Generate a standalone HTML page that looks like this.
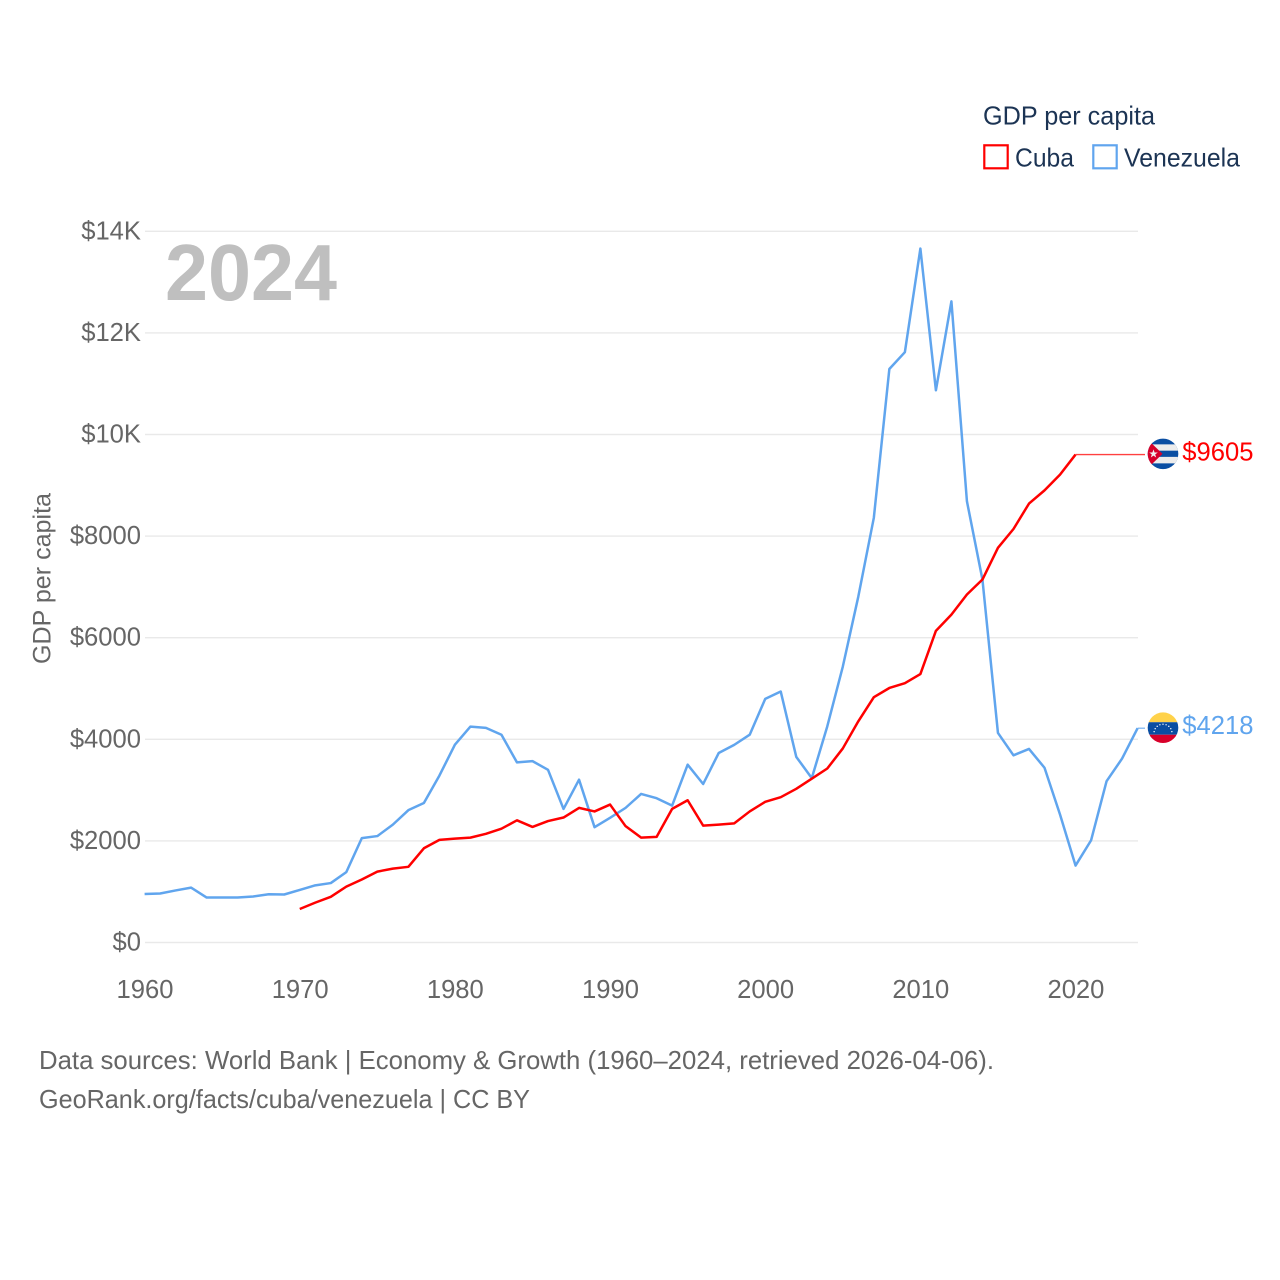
<!DOCTYPE html>
<html lang="en">
<head>
<meta charset="utf-8">
<title>GDP per capita: Cuba and Venezuela</title>
<style>
  html, body { margin: 0; padding: 0; background: #fff; }
  #chart { display: block; width: 1280px; height: 1280px; font-family: "Liberation Sans", sans-serif; }
  text { font-family: "Liberation Sans", sans-serif; }
</style>
</head>
<body>
<svg id="chart" xmlns="http://www.w3.org/2000/svg" width="1280" height="1280" viewBox="0 0 1280 1280">
  <defs>
    <clipPath id="cuba-clip"><circle cx="0" cy="0" r="15.3"/></clipPath>
    <clipPath id="venezuela-clip"><circle cx="0" cy="0" r="15.3"/></clipPath>
  </defs>
  <rect x="0" y="0" width="1280" height="1280" fill="#ffffff"/>
  <g id="grid"></g>
  <g id="y-ticks"></g>
  <g id="x-ticks"></g>
  <text id="year-label" x="165" y="300" font-size="80" font-weight="700" fill="#bfbfbf" textLength="172" lengthAdjust="spacingAndGlyphs"></text>
  <text transform="translate(50.5,664) rotate(-90)" font-size="25" fill="#666666" textLength="171" lengthAdjust="spacingAndGlyphs">GDP per capita</text>
  <g id="series"></g>
  <g id="end-markers"></g>

  <g>
    <text x="983" y="124.5" font-size="25.6" fill="#1c3454" textLength="172" lengthAdjust="spacingAndGlyphs">GDP per capita</text>
    <rect x="984.3" y="145.3" width="23.4" height="23" fill="none" stroke="#ff0000" stroke-width="2.2"/>
    <text x="1015" y="166.5" font-size="25.6" fill="#1c3454" textLength="59" lengthAdjust="spacingAndGlyphs">Cuba</text>
    <rect x="1093.3" y="145.3" width="23.4" height="23" fill="none" stroke="#60a5ee" stroke-width="2.2"/>
    <text x="1124" y="166.5" font-size="25.6" fill="#1c3454" textLength="116" lengthAdjust="spacingAndGlyphs">Venezuela</text>
  </g>

  <g>
    <text x="39" y="1069" font-size="25.6" fill="#666666" textLength="955" lengthAdjust="spacingAndGlyphs">Data sources: World Bank | Economy &amp; Growth (1960–2024, retrieved 2026-04-06).</text>
    <text x="39" y="1108" font-size="25.6" fill="#666666" textLength="491" lengthAdjust="spacingAndGlyphs">GeoRank.org/facts/cuba/venezuela | CC BY</text>
  </g>
</svg>
<script>
const venezuelaStartYear = 1960;
const cubaStartYear = 1970;
const venezuelaValues = [955, 965, 1025, 1080, 885, 885, 885, 905, 950, 945,
  1035, 1125, 1170, 1385, 2055, 2095, 2320, 2605, 2745, 3285,
  3895, 4250, 4225, 4090, 3545, 3570, 3400, 2630, 3205, 2270,
  2455, 2650, 2925, 2840, 2695, 3500, 3120, 3730, 3890, 4090,
  4795, 4940, 3655, 3235, 4255, 5430, 6810, 8360, 11290, 11620,
  13660, 10870, 12620, 8685, 7145, 4125, 3685, 3810, 3440, 2520,
  1515, 2010, 3175, 3620, 4218];
const cubaValues = [660, 785, 900, 1100, 1240, 1395, 1455, 1490, 1855, 2020,
  2045, 2065, 2140, 2240, 2405, 2275, 2390, 2460, 2650, 2580,
  2715, 2290, 2065, 2080, 2630, 2800, 2300, 2320, 2345, 2580,
  2770, 2860, 3025, 3225, 3425, 3820, 4355, 4830, 5010, 5105,
  5285, 6135, 6455, 6850, 7145, 7770, 8140, 8640, 8900, 9210,
  9605];
const yTickValues = [0, 2000, 4000, 6000, 8000, 10000, 12000, 14000];
const yTickLabels = ["$0", "$2000", "$4000", "$6000", "$8000", "$10K", "$12K", "$14K"];
const xTickValues = [1960, 1970, 1980, 1990, 2000, 2010, 2020];
const currentYear = 2024;

const SVG_NS = "http://www.w3.org/2000/svg";
function xScale(year) { return 144.6 + (year - 1960) * (1137.6 - 144.6) / 64; }
function yScale(value) { return 942.5 - value * (942.5 - 231.3) / 14000; }
function make(tag, parent) {
  const el = document.createElementNS(SVG_NS, tag);
  parent.appendChild(el);
  return el;
}
function linePoints(values, startYear) {
  return values.map(function (v, i) {
    return xScale(startYear + i).toFixed(2) + "," + yScale(v).toFixed(2);
  }).join(" ");
}

document.getElementById("year-label").textContent = String(currentYear);

const gridGroup = document.getElementById("grid");
const yTickGroup = document.getElementById("y-ticks");
const xTickGroup = document.getElementById("x-ticks");
const seriesGroup = document.getElementById("series");
const markerGroup = document.getElementById("end-markers");

yTickValues.forEach(function (v, i) {
  const gridLine = make("line", gridGroup);
  
  
  gridLine.setAttribute("x1", 145);
  gridLine.setAttribute("x2", 1138);
  gridLine.setAttribute("y1", yScale(v));
  gridLine.setAttribute("y2", yScale(v));
  gridLine.setAttribute("stroke", "#e9e9e9");
  gridLine.setAttribute("stroke-width", "1.4");

  const label = make("text", yTickGroup);
  
  
  label.setAttribute("x", 141);
  label.setAttribute("y", yScale(v) + 8);
  label.setAttribute("text-anchor", "end");
  label.setAttribute("font-size", "25.6");
  label.setAttribute("fill", "#666666");
  label.textContent = yTickLabels[i];
});

xTickValues.forEach(function (year) {
  const label = make("text", xTickGroup);
  
  
  label.setAttribute("x", xScale(year) + 0.4);
  label.setAttribute("y", 998);
  label.setAttribute("text-anchor", "middle");
  label.setAttribute("font-size", "25.6");
  label.setAttribute("fill", "#666666");
  label.textContent = String(year);
});

const BLUE = "#60a5ee";
const RED = "#ff0000";

const venezuelaLine = make("polyline", seriesGroup);


venezuelaLine.setAttribute("points", linePoints(venezuelaValues, venezuelaStartYear));
venezuelaLine.setAttribute("fill", "none");
venezuelaLine.setAttribute("stroke", BLUE);
venezuelaLine.setAttribute("stroke-width", "2.5");
venezuelaLine.setAttribute("stroke-linejoin", "round");

const cubaLine = make("polyline", seriesGroup);


cubaLine.setAttribute("points", linePoints(cubaValues, cubaStartYear));
cubaLine.setAttribute("fill", "none");
cubaLine.setAttribute("stroke", RED);
cubaLine.setAttribute("stroke-width", "2.5");
cubaLine.setAttribute("stroke-linejoin", "round");

const lastVenezuela = venezuelaValues[venezuelaValues.length - 1];
const lastCuba = cubaValues[cubaValues.length - 1];
const lastVenezuelaX = xScale(venezuelaStartYear + venezuelaValues.length - 1);
const lastCubaX = xScale(cubaStartYear + cubaValues.length - 1);

const cubaConnector = make("line", markerGroup);


cubaConnector.setAttribute("x1", lastCubaX);
cubaConnector.setAttribute("x2", 1145);
cubaConnector.setAttribute("y1", yScale(lastCuba));
cubaConnector.setAttribute("y2", yScale(lastCuba));
cubaConnector.setAttribute("stroke", RED);
cubaConnector.setAttribute("stroke-opacity", "0.75");
cubaConnector.setAttribute("stroke-width", "1.4");

const venezuelaConnector = make("line", markerGroup);


venezuelaConnector.setAttribute("x1", lastVenezuelaX);
venezuelaConnector.setAttribute("x2", 1145);
venezuelaConnector.setAttribute("y1", yScale(lastVenezuela));
venezuelaConnector.setAttribute("y2", yScale(lastVenezuela));
venezuelaConnector.setAttribute("stroke", BLUE);
venezuelaConnector.setAttribute("stroke-opacity", "0.75");
venezuelaConnector.setAttribute("stroke-width", "1.4");

function addRect(parent, x, y, w, h, fill) {
  const r = make("rect", parent);
  
  
  r.setAttribute("x", x);
  r.setAttribute("y", y);
  r.setAttribute("width", w);
  r.setAttribute("height", h);
  r.setAttribute("fill", fill);
}

/* Cuba flag */
const cubaFlag = make("g", markerGroup);


cubaFlag.setAttribute("transform", "translate(1163," + (yScale(lastCuba) - 0.7) + ")");
const cubaInner = make("g", cubaFlag);


cubaInner.setAttribute("clip-path", "url(#cuba-clip)");
addRect(cubaInner, -16, -16, 32, 32, "#0a4ea2");
addRect(cubaInner, -16, -9.5, 32, 6.3, "#ececec");
addRect(cubaInner, -16, 3, 32, 6.5, "#ececec");
const cubaTriangle = make("polygon", cubaInner);


cubaTriangle.setAttribute("points", "-16,-15 -0.5,0 -16,15");
cubaTriangle.setAttribute("fill", "#d6002a");
const cubaStar = make("polygon", cubaInner);


cubaStar.setAttribute("points", "-9.5,-4.5 -8.4,-1.4 -5.2,-1.4 -7.8,0.5 -6.8,3.6 -9.5,1.7 -12.2,3.6 -11.2,0.5 -13.8,-1.4 -10.6,-1.4");
cubaStar.setAttribute("fill", "#f0f0f0");

/* Venezuela flag */
const venezuelaFlag = make("g", markerGroup);


venezuelaFlag.setAttribute("transform", "translate(1163," + (yScale(lastVenezuela) - 0.5) + ")");
const venezuelaInner = make("g", venezuelaFlag);


venezuelaInner.setAttribute("clip-path", "url(#venezuela-clip)");
addRect(venezuelaInner, -16, -16, 32, 10.5, "#ffd24a");
addRect(venezuelaInner, -16, -5.5, 32, 12.5, "#0a4ea2");
addRect(venezuelaInner, -16, 7, 32, 9, "#d8002a");
[-60, -40, -20, 0, 20, 40, 60, -80, 80].forEach(function (deg) {
  const a = deg * Math.PI / 180;
  const dot = make("circle", venezuelaInner);
  
  
  dot.setAttribute("cx", 9 * Math.sin(a));
  dot.setAttribute("cy", 5.5 - 9 * Math.cos(a));
  dot.setAttribute("r", "0.7");
  dot.setAttribute("fill", "#ffffff");
});

const cubaValueLabel = make("text", markerGroup);


cubaValueLabel.setAttribute("x", 1182.3);
cubaValueLabel.setAttribute("y", yScale(lastCuba) + 6);
cubaValueLabel.setAttribute("font-size", "25.6");
cubaValueLabel.setAttribute("fill", RED);
cubaValueLabel.textContent = "$" + lastCuba;

const venezuelaValueLabel = make("text", markerGroup);


venezuelaValueLabel.setAttribute("x", 1182.3);
venezuelaValueLabel.setAttribute("y", yScale(lastVenezuela) + 6);
venezuelaValueLabel.setAttribute("font-size", "25.6");
venezuelaValueLabel.setAttribute("fill", BLUE);
venezuelaValueLabel.textContent = "$" + lastVenezuela;
</script>
</body>
</html>
